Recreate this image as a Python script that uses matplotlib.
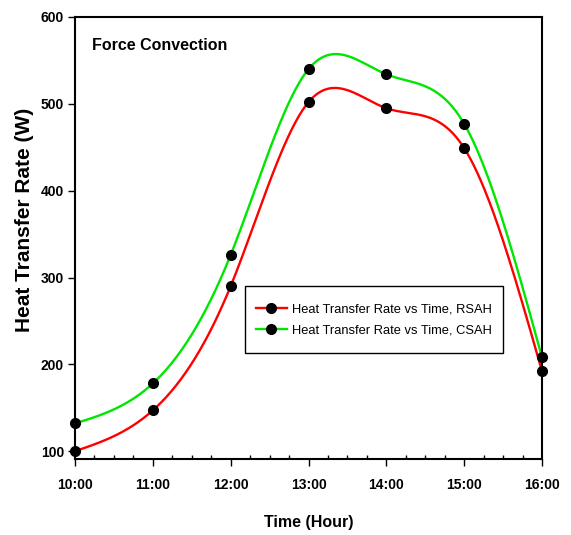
import numpy as np
import matplotlib
matplotlib.use("Agg")
import matplotlib.pyplot as plt
from matplotlib.ticker import MultipleLocator, FixedLocator
from matplotlib.patches import Rectangle

hours = [10, 11, 12, 13, 14, 15, 16]
tick_labels = ["10:00", "11:00", "12:00", "13:00", "14:00", "15:00", "16:00"]
rsah = [100, 147, 290, 502, 495, 449, 192]
csah = [132, 178, 326, 540, 534, 477, 208]

def natural_spline(x, y, n=400):
    x = np.asarray(x, float); y = np.asarray(y, float)
    m = len(x); h = np.diff(x)
    A = np.zeros((m, m)); b = np.zeros(m)
    A[0, 0] = A[-1, -1] = 1
    for i in range(1, m - 1):
        A[i, i - 1] = h[i - 1]; A[i, i] = 2 * (h[i - 1] + h[i]); A[i, i + 1] = h[i]
        b[i] = 3 * ((y[i + 1] - y[i]) / h[i] - (y[i] - y[i - 1]) / h[i - 1])
    c = np.linalg.solve(A, b)
    xs = np.linspace(x[0], x[-1], n)
    idx = np.clip(np.searchsorted(x, xs) - 1, 0, m - 2)
    dx = xs - x[idx]
    bb = (y[1:] - y[:-1]) / h - h * (2 * c[:-1] + c[1:]) / 3
    d = (c[1:] - c[:-1]) / (3 * h)
    ys = y[idx] + bb[idx] * dx + c[idx] * dx ** 2 + d[idx] * dx ** 3
    return xs, ys

fam = ["Liberation Sans", "DejaVu Sans"]
plt.rcParams['font.family'] = fam

W, H = 571, 535
fig = plt.figure(figsize=(W / 100, H / 100), dpi=100)
L, R, T, B = 75, 542, 17, 459
ax = fig.add_axes([L / W, 1 - B / H, (R - L) / W, (B - T) / H])

def ax_x(px):
    return (px - L) / (R - L)

def ax_y(py):
    return 1 - (py - T) / (B - T)

for data, col, lab in [(rsah, "#ff0000", "Heat Transfer Rate vs Time, RSAH"),
                       (csah, "#00e600", "Heat Transfer Rate vs Time, CSAH")]:
    xs, ys = natural_spline(hours, data)
    ax.plot(xs, ys, color=col, lw=1.7, zorder=2)
    ax.plot(hours, data, 'o', color='black', ms=7, zorder=3, clip_on=False)
    ax.plot([], [], color=col, lw=1.7, marker='o', mfc='black', mec='black', ms=7, label=lab)

ax.set_xlim(10, 16)
ax.set_ylim(91, 600)
ax.xaxis.set_major_locator(FixedLocator(hours))
ax.set_xticklabels(tick_labels)
ax.xaxis.set_minor_locator(MultipleLocator(0.25))
ax.yaxis.set_major_locator(FixedLocator([100, 200, 300, 400, 500, 600]))
ax.tick_params(axis='both', which='major', direction='out', length=5, width=1, labelsize=10, pad=3)
ax.tick_params(axis='x', which='minor', direction='in', length=3, width=1)
ax.tick_params(axis='x', which='major', pad=9)
for lbl in ax.get_xticklabels() + ax.get_yticklabels():
    lbl.set_fontweight('bold')
for s in ax.spines.values():
    s.set_linewidth(1.5)

ax.set_xlabel("Time (Hour)", fontsize=11.5, fontweight='bold', va='center')
ax.xaxis.set_label_coords(0.5, ax_y(522))
ax.set_ylabel("Heat Transfer Rate (W)", fontsize=15, fontweight='bold', va='center')
ax.yaxis.set_label_coords(ax_x(25), ax_y(220))
ax.text(ax_x(92), ax_y(38), "Force Convection", transform=ax.transAxes,
        fontsize=11.5, fontweight='bold', va='top', ha='left')

leg = ax.legend(loc='center', bbox_to_anchor=(ax_x(374), ax_y(320)),
                prop={'size': 9.3}, frameon=False, handlelength=2.4,
                borderpad=0, labelspacing=0.7, handletextpad=0.45, borderaxespad=0)
ax.add_patch(Rectangle((ax_x(245), ax_y(353)), ax_x(503) - ax_x(245), ax_y(286) - ax_y(353),
                       transform=ax.transAxes, facecolor='white', edgecolor='black',
                       lw=1, zorder=4))
leg.set_zorder(5)

fig.savefig("out.png", dpi=100)
